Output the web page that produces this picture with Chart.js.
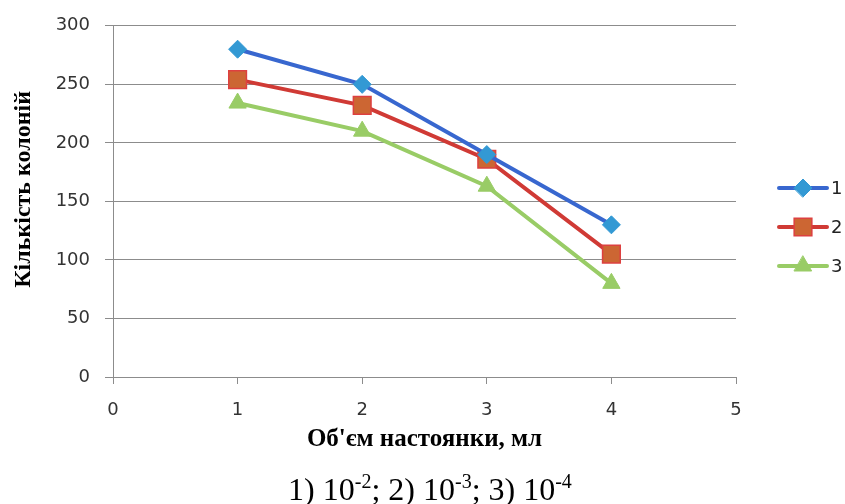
<!DOCTYPE html>
<html>
<head>
<meta charset="utf-8">
<script src="https://cdn.jsdelivr.net/npm/chart.js@4/dist/chart.umd.min.js"></script>
<style>
    html, body { margin: 0; padding: 0; background: #fff; }
    #wrap { position: relative; width: 845px; height: 504px; overflow: hidden; }
    #caption {
        position: absolute; left: 0; width: 860px; top: 470px;
        text-align: center; font-family: 'Liberation Serif', serif; font-size: 32px; color: #000;
        line-height: 38px; white-space: nowrap;
    }
    #caption sup { font-size: 20px; vertical-align: baseline; position: relative; top: -12px; }
</style>
</head>
<body>
<div id="wrap">
    <canvas id="coloniesChart" width="845" height="504"></canvas>
    <div id="caption">1) 10<sup>-2</sup>; 2) 10<sup>-3</sup>; 3) 10<sup>-4</sup></div>
</div>
<script>
// Volume of the extract, ml
const volumes = [1, 2, 3, 4];
// Colony counts for each dilution
const series1 = [280, 250, 190, 130];
const series2 = [254, 232, 186, 105];
const series3 = [234, 210, 163, 80];
const seriesNames = ['1', '2', '3'];
const yTicks = [0, 50, 100, 150, 200, 250, 300];
const xTicks = [0, 1, 2, 3, 4, 5];

const toPoints = values => values.map((v, i) => ({ x: volumes[i], y: v }));

const gridColor = '#8c8c8c';
const tickFont = { family: 'DejaVu Sans', size: 18 };

// Legend on the right: short line with the marker in the middle
const sideLegend = {
    id: 'sideLegend',
    afterDraw(chart) {
        const ctx = chart.ctx;
        const rows = [188, 227, 266];
        chart.data.datasets.forEach((ds, i) => {
            const y = rows[i];
            ctx.save();
            ctx.strokeStyle = ds.borderColor;
            ctx.lineWidth = 4;
            ctx.lineCap = 'round';
            ctx.beginPath();
            ctx.moveTo(779, y);
            ctx.lineTo(827, y);
            ctx.stroke();
            ctx.fillStyle = ds.pointBackgroundColor;
            ctx.strokeStyle = ds.pointBorderColor;
            ctx.lineWidth = ds.pointBorderWidth;
            Chart.helpers.drawPoint(ctx, {
                pointStyle: ds.pointStyle,
                radius: ds.pointRadius,
                rotation: 0,
                borderWidth: ds.pointBorderWidth
            }, 803, y);
            ctx.fillStyle = '#222';
            ctx.font = '18px "DejaVu Sans"';
            ctx.textBaseline = 'middle';
            ctx.fillText(seriesNames[i], 831, y + 1);
            ctx.restore();
        });
    }
};

const ctx = document.getElementById('coloniesChart').getContext('2d');
new Chart(ctx, {
    type: 'line',
    data: {
        datasets: [
            {
                label: seriesNames[0],
                data: toPoints(series1),
                borderColor: '#3867cf',
                borderWidth: 4,
                pointStyle: 'rectRot',
                pointRadius: 9,
                pointBackgroundColor: '#3399d4',
                pointBorderColor: '#3399d4',
                pointBorderWidth: 1
            },
            {
                label: seriesNames[1],
                data: toPoints(series2),
                borderColor: '#d03a35',
                borderWidth: 4,
                pointStyle: 'rect',
                pointRadius: 12.5,
                pointBackgroundColor: '#cc6633',
                pointBorderColor: '#dd4040',
                pointBorderWidth: 1.5
            },
            {
                label: seriesNames[2],
                data: toPoints(series3),
                borderColor: '#99cc66',
                borderWidth: 4,
                pointStyle: 'triangle',
                pointRadius: 10,
                pointBackgroundColor: '#99cc66',
                pointBorderColor: '#99cc66',
                pointBorderWidth: 1
            }
        ]
    },
    options: {
        responsive: false,
        animation: false,
        layout: { padding: { top: 24, right: 109, bottom: 46, left: 0 } },
        plugins: {
            legend: { display: false },
            tooltip: { enabled: false }
        },
        scales: {
            x: {
                type: 'linear',
                min: 0,
                max: 5,
                afterFit: scale => { scale.height = 81; },
                afterBuildTicks: scale => { scale.ticks = xTicks.map(v => ({ value: v })); },
                grid: { drawOnChartArea: false, drawTicks: true, tickLength: 7, color: gridColor, tickColor: gridColor },
                border: { display: true, color: gridColor, width: 1 },
                ticks: { font: tickFont, color: '#333', padding: 16, maxRotation: 0 },
                title: {
                    display: true,
                    text: "Об'єм настоянки, мл",
                    font: { family: 'Liberation Serif', size: 25, weight: 'bold' },
                    color: '#000',
                    padding: { top: 0, bottom: 3 }
                }
            },
            y: {
                min: 0,
                max: 300,
                afterFit: scale => { scale.width = 113; },
                afterBuildTicks: scale => { scale.ticks = yTicks.map(v => ({ value: v })); },
                grid: { color: gridColor, tickLength: 8, tickColor: gridColor },
                border: { display: true, color: gridColor, width: 1 },
                ticks: { font: tickFont, color: '#333', padding: 15 },
                title: {
                    display: true,
                    // leading spaces lift the title a little above the axis centre
                    text: '    Кількість колоній',
                    font: { family: 'Liberation Serif', size: 24, weight: 'bold' },
                    color: '#000',
                    padding: { top: 9, bottom: 0 }
                }
            }
        }
    },
    plugins: [sideLegend]
});
</script>
</body>
</html>
